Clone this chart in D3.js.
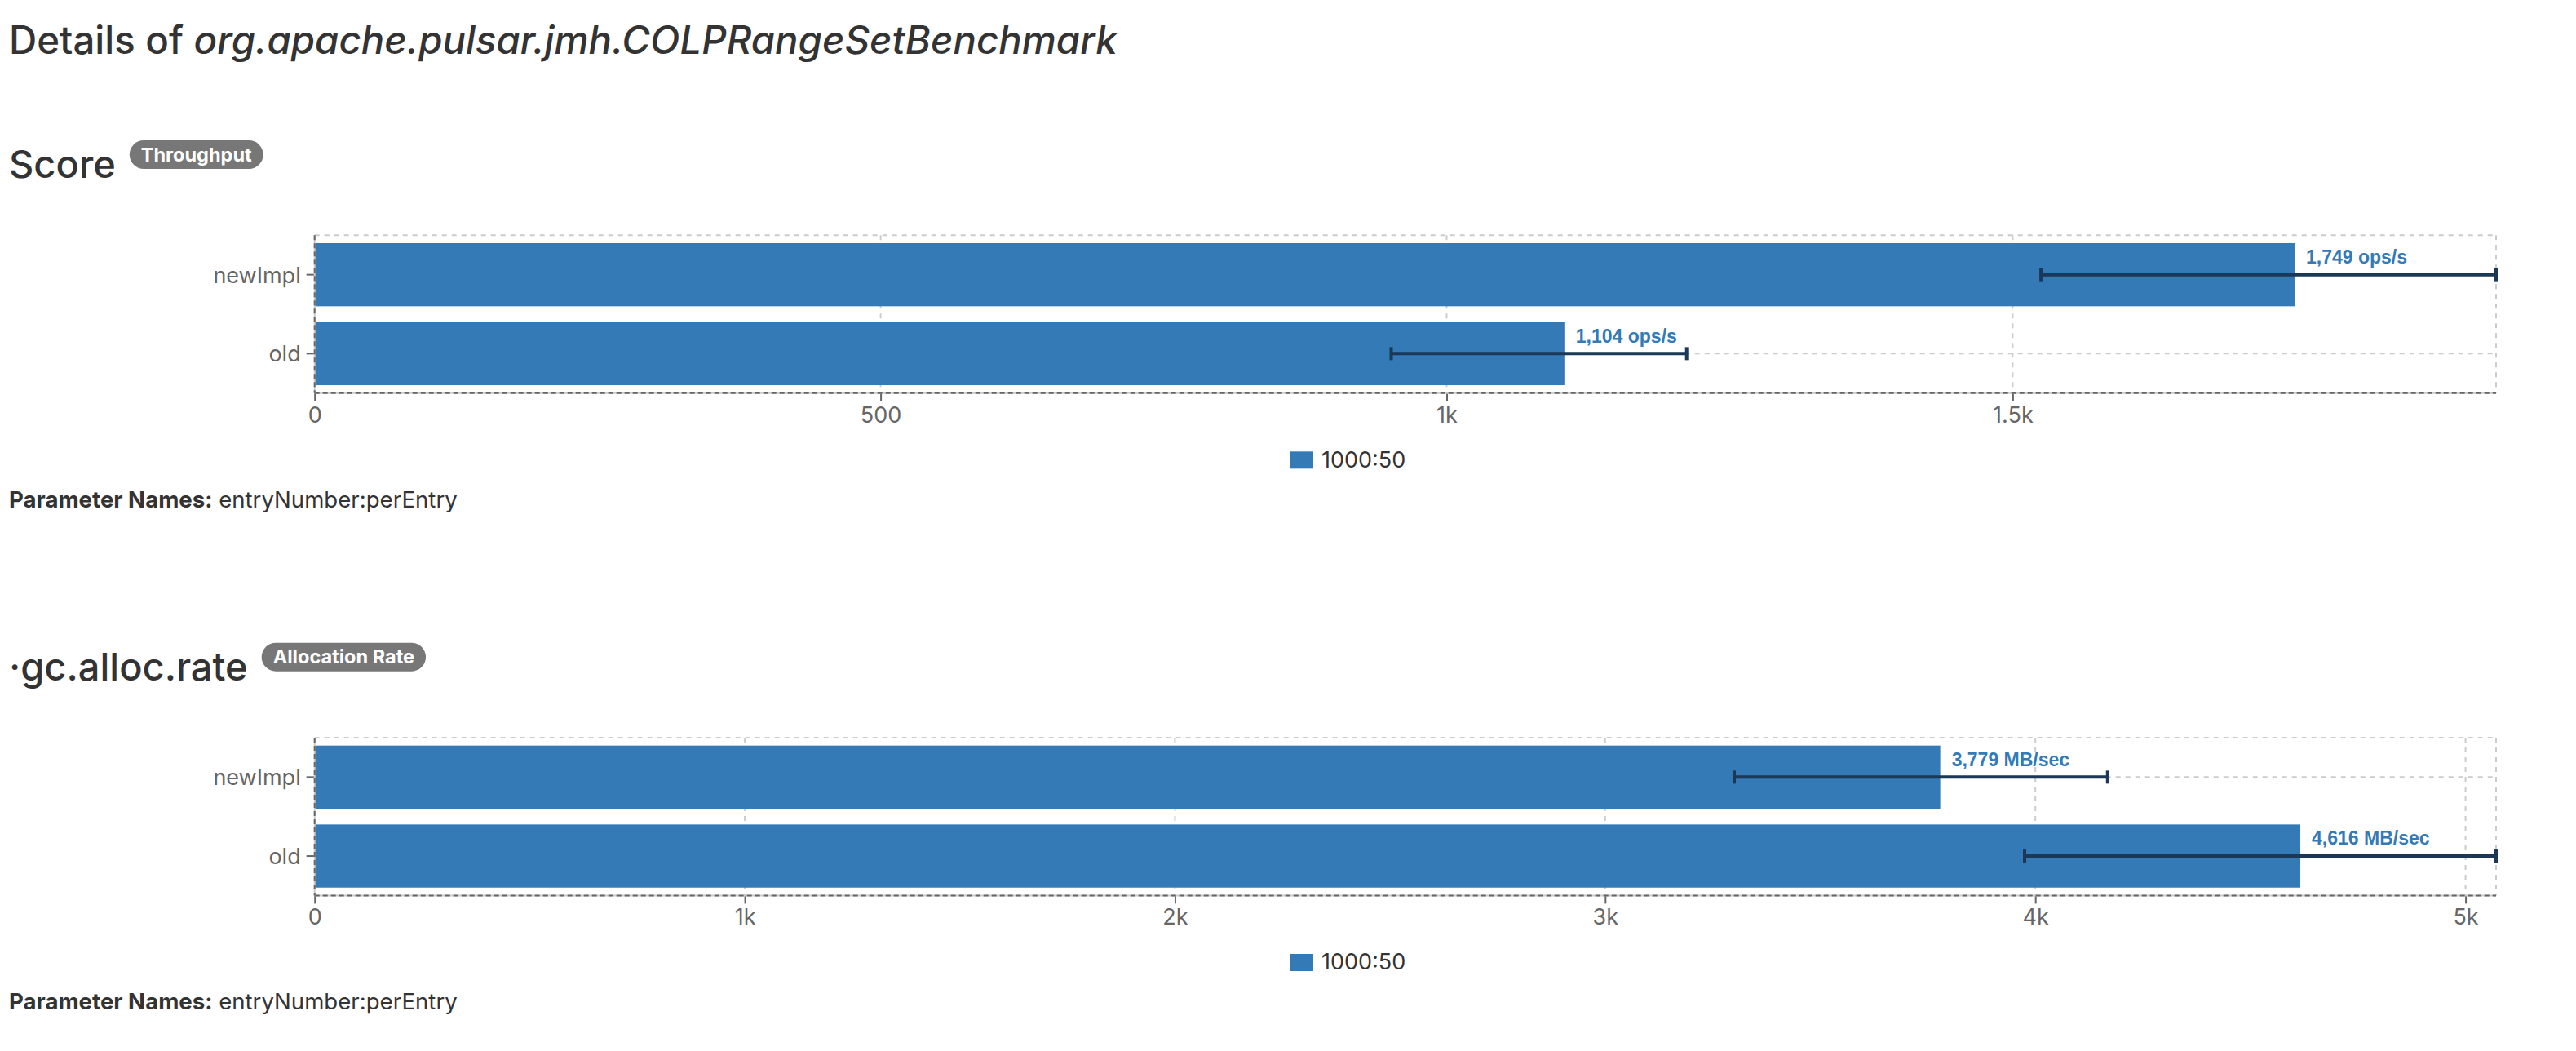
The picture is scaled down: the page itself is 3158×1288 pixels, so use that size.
<!DOCTYPE html>
<html>
<head>
<meta charset="utf-8">
<script src="https://cdn.jsdelivr.net/npm/d3@7"></script>
<style>
  html, body { margin: 0; padding: 0; background: #fff; }
  svg { display: block; }
</style>
</head>
<body>
<svg id="chart" width="3158" height="1288"></svg>
<script>
// ---------- data ----------
const benchmarkName = "org.apache.pulsar.jmh.COLPRangeSetBenchmark";
const categories = ["newImpl", "old"];
const seriesName = "1000:50";
const parameterNames = "entryNumber:perEntry";

const scoreValues = [1749, 1104];
const scoreLower = [1525, 951];
const scoreUpper = [1927, 1212];
const scoreTicks = [0, 500, 1000, 1500];
const scoreTickLabels = ["0", "500", "1k", "1.5k"];

const allocValues = [3779, 4616];
const allocLower = [3300, 3975];
const allocUpper = [4168, 5071];
const allocTicks = [0, 1000, 2000, 3000, 4000, 5000];
const allocTickLabels = ["0", "1k", "2k", "3k", "4k", "5k"];

// ---------- styles ----------
const BAR = "#337ab7";
const ERR = "#1b3857";
const GRID = "#cccccc";
const AXIS = "#666666";
const TEXT = "#333333";
const UI_FONT = "Inter, 'Liberation Sans', Arial, sans-serif";
const LABEL_FONT = "'Liberation Sans', Arial, sans-serif";

const svg = d3.select("#chart");

// page title
const title = svg.append("text")
  .attr("x", 11).attr("y", 66)
  .attr("font-family", UI_FONT).attr("font-size", 47.4).attr("font-weight", 500)
  .attr("fill", TEXT);
title.append("tspan").text("Details of ");
title.append("tspan").attr("font-style", "italic").text(benchmarkName);

function section(opts) {
  const off = opts.offset;
  const g = svg.append("g").attr("transform", `translate(0,${off})`);

  // heading + badge
  const h = g.append("text")
    .attr("x", 11).attr("y", 218)
    .attr("font-family", UI_FONT).attr("font-size", 47).attr("font-weight", 500)
    .attr("fill", TEXT).text(opts.heading);
  const hw = h.node().getComputedTextLength();
  const bx = 11 + hw + 17;
  const bt = g.append("text")
    .attr("y", 197.5)
    .attr("font-family", UI_FONT).attr("font-size", 23.5).attr("font-weight", 700)
    .attr("fill", "#fff").text(opts.badge);
  const bw = bt.node().getComputedTextLength() + 28;
  g.insert("rect", "text:last-of-type")
    .attr("x", bx).attr("y", 172).attr("width", bw).attr("height", 35)
    .attr("rx", 17.5).attr("fill", "#777777");
  bt.attr("x", bx + bw / 2).attr("text-anchor", "middle").raise();

  // scales
  const left = 385.7, right = 3060, top = 288.3, bottom = 481.7;
  const x = d3.scaleLinear().domain([0, d3.max(opts.upper)]).range([left, right]);
  const y = d3.scaleBand().domain(categories).range([top, bottom]).padding(0);
  const bwid = y.bandwidth();
  const cy = c => y(c) + bwid / 2;

  // grid
  const grid = g.append("g").attr("stroke", GRID).attr("stroke-width", 2)
    .attr("stroke-dasharray", "6 6").attr("fill", "none");
  [top].concat(categories.map(cy)).forEach(yy => {
    grid.append("line").attr("x1", left).attr("x2", right).attr("y1", yy).attr("y2", yy);
  });
  opts.ticks.filter(t => t > 0).forEach(t => {
    grid.append("line").attr("x1", x(t)).attr("x2", x(t)).attr("y1", top).attr("y2", bottom);
  });
  grid.append("line").attr("x1", right).attr("x2", right).attr("y1", top).attr("y2", bottom);

  // bars
  const data = categories.map((c, i) => ({
    c, v: opts.values[i], lo: opts.lower[i], hi: opts.upper[i]
  }));
  g.append("g").selectAll("rect").data(data).join("rect")
    .attr("x", x(0))
    .attr("y", d => y(d.c) + bwid * 0.1)
    .attr("width", d => x(d.v) - x(0))
    .attr("height", bwid * 0.8)
    .attr("fill", BAR);

  // error bars
  const eg = g.append("g").attr("stroke", ERR).attr("stroke-width", 4);
  data.forEach(d => {
    const yy = cy(d.c);
    eg.append("line").attr("x1", x(d.lo)).attr("x2", x(d.hi)).attr("y1", yy).attr("y2", yy);
    eg.append("line").attr("x1", x(d.lo)).attr("x2", x(d.lo)).attr("y1", yy - 8).attr("y2", yy + 8);
    eg.append("line").attr("x1", x(d.hi)).attr("x2", x(d.hi)).attr("y1", yy - 8).attr("y2", yy + 8);
  });

  // value labels
  g.append("g").selectAll("text").data(data).join("text")
    .attr("x", d => x(d.v) + 14)
    .attr("y", d => cy(d.c) - 13.6)
    .attr("font-family", LABEL_FONT).attr("font-size", 23).attr("font-weight", 700)
    .attr("fill", BAR)
    .text(d => d3.format(",.0f")(d.v) + " " + opts.unit);

  // x axis
  const xAxis = d3.axisBottom(x).tickValues(opts.ticks)
    .tickFormat((t, i) => opts.tickLabels[i]).tickSize(10).tickPadding(10);
  const xg = g.append("g").attr("transform", `translate(0,${bottom})`).call(xAxis);
  xg.select(".domain").remove();
  xg.selectAll(".tick line").attr("stroke", AXIS).attr("stroke-width", 2);
  xg.selectAll(".tick text").attr("fill", AXIS).attr("font-family", UI_FONT)
    .attr("font-size", 27).attr("dy", null).attr("y", 36);
  g.append("line").attr("x1", left).attr("x2", right).attr("y1", bottom).attr("y2", bottom)
    .attr("stroke", GRID).attr("stroke-width", 2);
  g.append("line").attr("x1", left).attr("x2", right).attr("y1", bottom).attr("y2", bottom)
    .attr("stroke", AXIS).attr("stroke-width", 2).attr("stroke-dasharray", "6 4");

  // y axis
  const yAxis = d3.axisLeft(y).tickSize(10).tickPadding(7);
  const yg = g.append("g").attr("transform", `translate(${left},0)`).call(yAxis);
  yg.select(".domain").remove();
  yg.selectAll(".tick line").attr("stroke", AXIS).attr("stroke-width", 2);
  yg.selectAll(".tick text").attr("fill", AXIS).attr("font-family", UI_FONT)
    .attr("font-size", 27).attr("dy", null).attr("y", 10);
  g.append("line").attr("x1", left).attr("x2", left).attr("y1", top).attr("y2", bottom)
    .attr("stroke", GRID).attr("stroke-width", 2);
  g.append("line").attr("x1", left).attr("x2", left).attr("y1", top).attr("y2", bottom)
    .attr("stroke", AXIS).attr("stroke-width", 2).attr("stroke-dasharray", "6 4");

  // legend
  const lg = g.append("g");
  lg.append("rect").attr("x", 1582).attr("y", 553.3).attr("width", 28).attr("height", 21).attr("fill", BAR);
  lg.append("text").attr("x", 1620).attr("y", 572.7)
    .attr("font-family", UI_FONT).attr("font-size", 27).attr("fill", TEXT).text(seriesName);

  // parameter names
  const p = g.append("text").attr("x", 11).attr("y", 621.7)
    .attr("font-family", UI_FONT).attr("font-size", 27.6).attr("fill", TEXT);
  p.append("tspan").attr("font-weight", 700).text("Parameter Names:");
  p.append("tspan").text(" " + parameterNames);
}

section({
  offset: 0, heading: "Score", badge: "Throughput", unit: "ops/s",
  values: scoreValues, lower: scoreLower, upper: scoreUpper,
  ticks: scoreTicks, tickLabels: scoreTickLabels
});
section({
  offset: 615.7, heading: "\u00B7gc.alloc.rate", badge: "Allocation Rate", unit: "MB/sec",
  values: allocValues, lower: allocLower, upper: allocUpper,
  ticks: allocTicks, tickLabels: allocTickLabels
});
</script>
</body>
</html>
